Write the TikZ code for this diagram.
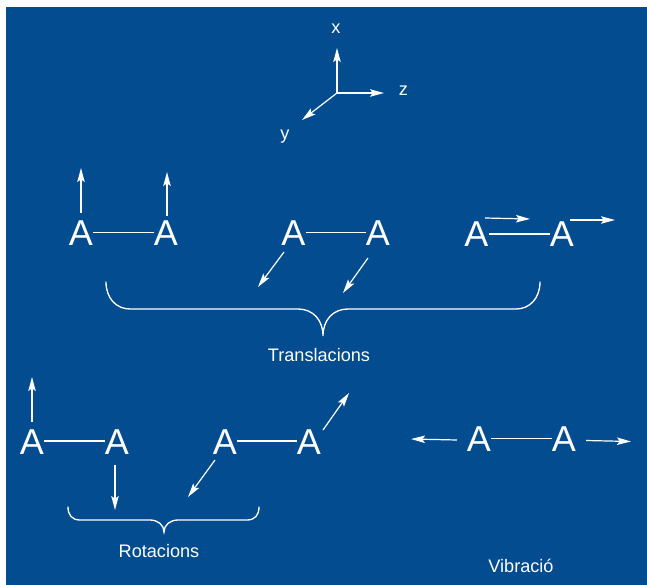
\documentclass[tikz,border=0pt]{standalone}
\usepackage{fontspec}
\setmainfont{Liberation Sans}
\usetikzlibrary{arrows.meta}
\definecolor{bgblue}{HTML}{034C8F}
\tikzset{
  atom/.style={text=white,font=\fontsize{27}{27}\selectfont,inner sep=0pt,outer sep=0pt,text height=19.5pt,text depth=0pt},
  lab/.style={text=white,font=\fontsize{13.6}{15}\selectfont,inner sep=0pt},
  bond/.style={draw=white,line width=1.1pt},
  vec/.style={draw=white,line width=0.9pt,-{Stealth[length=10.5pt,width=5.6pt,inset=2pt]},shorten >=0pt},
  brace/.style={draw=white,line width=1pt,line cap=round}
}
\begin{document}
\begin{tikzpicture}[x=0.75pt,y=-0.75pt]
\useasboundingbox (0,0) rectangle (647,585);
\fill[bgblue] (6,7) rectangle (647,585);
% axes
\coordinate (o) at (337,93);
\coordinate (xt) at (337,48);
\coordinate (zt) at (384,93);
\coordinate (yt) at (302,120);
\draw[vec] (o) -- (xt);
\draw[vec] (o) -- (zt);
\draw[vec] (o) -- (yt);
\node[lab] (lx) at (336,29) {x};
\node[lab] (lz) at (403.5,91) {z};
\node[lab] (ly) at (285,137) {y};
% atoms
\foreach \n/\x/\y in {a/81/232.5,b/166/232.5,c/293.5/232.5,d/378/232.5,e/476.5/234,f/562/234,g/32/441,h/117/441,i/225/441,j/309/441,k/479/438.5,l/564/438.5}
  \node[atom] (\n) at (\x,\y) {A};
\draw[bond] (a) -- (b);
\draw[bond] (c) -- (d);
\draw[bond] (e) -- (f);
\draw[bond] (g) -- (h);
\draw[bond] (i) -- (j);
\draw[bond] (k) -- (l);
% vectors
\foreach \n/\xa/\ya/\xb/\yb in {
  p/81/213/81/168, q/167/216/167/172,
  r/284/252/258/287, s/368/258/343/293,
  t/485/218/530/219, u/570/220/615/220,
  v/32/422/32/377, w/115/465/115/510,
  m/215/460/188/497, n/323/430/349/393,
  aa/457/440/411/439, ab/586/440.5/631/441.5}{
  \coordinate (\n s) at (\xa,\ya);
  \coordinate (\n e) at (\xb,\yb);
  \draw[vec] (\n s) -- (\n e);
}
% braces
\draw[brace] (106,282) .. controls (106,298) and (116,309) .. (130,309) -- (298,309)
  .. controls (313,309) and (323,320) .. (323,336)
  .. controls (323,320) and (333,309) .. (348,309) -- (516,309)
  .. controls (530,309) and (540,298) .. (540,282);
\draw[brace] (68,507) .. controls (68,515) and (72,520) .. (80,520) -- (150,520)
  .. controls (158,520) and (164,525) .. (164,532)
  .. controls (164,525) and (170,520) .. (178,520) -- (247,520)
  .. controls (255,520) and (259,515) .. (259,507);
\node[lab] (tr) at (319,355) {Translacions};
\node[lab] (ro) at (159,551) {Rotacions};
\node[lab] (vi) at (521,566) {Vibració};
\end{tikzpicture}
\end{document}
